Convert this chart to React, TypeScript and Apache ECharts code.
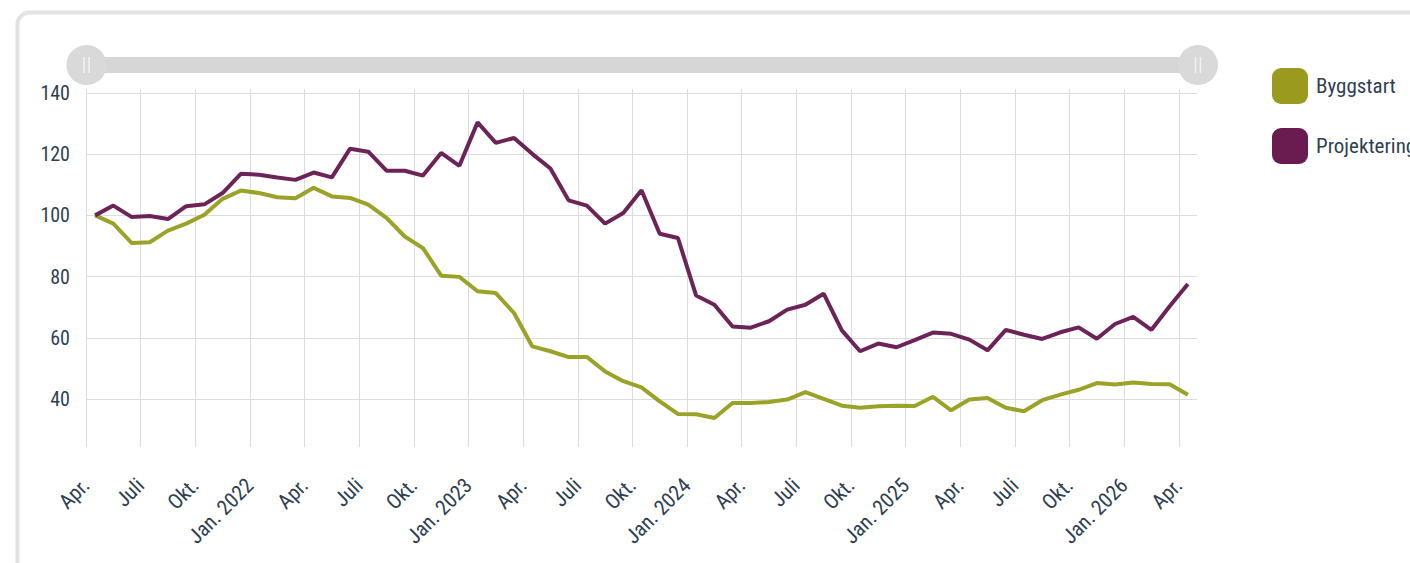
import React, { useEffect, useRef } from "react";
import * as echarts from "echarts";

// Months from Apr. 2021 to Apr. 2026 (one point per month)
const months: string[] = [
  "2021-04","2021-05","2021-06","2021-07","2021-08","2021-09","2021-10","2021-11","2021-12",
  "2022-01","2022-02","2022-03","2022-04","2022-05","2022-06","2022-07","2022-08","2022-09","2022-10","2022-11","2022-12",
  "2023-01","2023-02","2023-03","2023-04","2023-05","2023-06","2023-07","2023-08","2023-09","2023-10","2023-11","2023-12",
  "2024-01","2024-02","2024-03","2024-04","2024-05","2024-06","2024-07","2024-08","2024-09","2024-10","2024-11","2024-12",
  "2025-01","2025-02","2025-03","2025-04","2025-05","2025-06","2025-07","2025-08","2025-09","2025-10","2025-11","2025-12",
  "2026-01","2026-02","2026-03","2026-04",
];

const byggstart: number[] = [
  100, 97.3, 91.0, 91.2, 95.0, 97.3, 100.2, 105.4, 108.1, 107.3, 105.9, 105.6, 109.0, 106.2, 105.7, 103.5,
  99.2, 93.1, 89.3, 80.3, 79.9, 75.2, 74.6, 68.1, 57.2, 55.6, 53.7, 53.7, 49.0, 45.8, 43.8,
  39.2, 35.1, 35.0, 33.8, 38.7, 38.7, 39.0, 39.8, 42.2, 40.0, 37.8, 37.1, 37.6, 37.8, 37.7,
  40.7, 36.3, 39.8, 40.3, 37.1, 36.0, 39.6, 41.4, 43.0, 45.2, 44.7, 45.4, 44.9, 44.8, 41.4,
];

const projektering: number[] = [
  100, 103.2, 99.5, 99.8, 98.8, 103.0, 103.6, 107.3, 113.6, 113.3, 112.4, 111.6, 114.0, 112.4, 121.8, 120.8,
  114.6, 114.6, 113.0, 120.4, 116.2, 130.4, 123.7, 125.3, 120.1, 115.3, 104.9, 103.2, 97.3, 100.8, 108.2,
  94.0, 92.6, 73.8, 70.8, 63.7, 63.3, 65.4, 69.2, 70.8, 74.4, 62.4, 55.6, 58.1, 56.9, 59.2,
  61.7, 61.3, 59.4, 55.9, 62.6, 61.0, 59.6, 61.8, 63.4, 59.7, 64.5, 66.8, 62.6, 70.3, 77.6,
];

// Tick labels every third month, starting Apr. 2021
const xTickLabels: string[] = [
  "Apr.", "Juli", "Okt.", "Jan. 2022", "Apr.", "Juli", "Okt.", "Jan. 2023", "Apr.", "Juli", "Okt.",
  "Jan. 2024", "Apr.", "Juli", "Okt.", "Jan. 2025", "Apr.", "Juli", "Okt.", "Jan. 2026", "Apr.",
];

const yTickValues: number[] = [40, 60, 80, 100, 120, 140];

const seriesNames = ["Byggstart", "Projektering"];
const lineColors = ["#9ba228", "#6c2458"];
const legendColors = ["#999a1e", "#6a1b50"];

const FONT = "'Roboto Condensed', 'Liberation Sans Narrow', 'DejaVu Sans Condensed', Roboto, sans-serif";
const TEXT_COLOR = "#2f3f52";

export default function App() {
  const ref = useRef<HTMLDivElement>(null);

  useEffect(() => {
    document.body.style.margin = "0";
    if (!ref.current) return;
    const chart = echarts.init(ref.current, null, { renderer: "svg" });

    const toPoints = (vals: number[]) => vals.map((v, i) => [i + 0.5, v]);
    const seriesData = [toPoints(byggstart), toPoints(projektering)];

    const handle = (cx: number) => ({
      type: "group",
      children: [
        { type: "circle", shape: { cx, cy: 65, r: 20 }, style: { fill: "#d9d9d9" } },
        { type: "line", shape: { x1: cx - 2.5, y1: 57, x2: cx - 2.5, y2: 73 }, style: { stroke: "#f2f2f2", lineWidth: 1.5 } },
        { type: "line", shape: { x1: cx + 2.5, y1: 57, x2: cx + 2.5, y2: 73 }, style: { stroke: "#f2f2f2", lineWidth: 1.5 } },
      ],
    });

    chart.setOption({
      animation: false,
      backgroundColor: "#ffffff",
      textStyle: { fontFamily: FONT },
      grid: { left: 86, right: 213, top: 89, bottom: 116, outerBoundsMode: "none", containLabel: false },
      graphic: [
        {
          type: "rect",
          shape: { x: 17.5, y: 12.5, width: 1440, height: 620, r: 12 },
          style: { fill: "none", stroke: "#e3e3e3", lineWidth: 4 },
          z: 0,
        },
        {
          type: "rect",
          shape: { x: 90, y: 57, width: 1100, height: 16 },
          style: { fill: "#d6d6d6" },
        },
        handle(86.5),
        handle(1198),
      ],
      legend: {
        orient: "vertical",
        left: 1272,
        top: 68,
        padding: 0,
        itemWidth: 36,
        itemHeight: 36,
        itemGap: 24,
        icon: "roundRect",
        textStyle: { fontSize: 21, color: TEXT_COLOR, fontFamily: FONT, padding: [0, 0, 0, 3] },
        data: seriesNames.map((n, i) => ({ name: n, itemStyle: { color: legendColors[i] } })),
      },
      xAxis: {
        type: "value",
        min: 0,
        max: months.length,
        interval: 3,
        axisLine: { show: false },
        axisTick: { show: false },
        splitLine: { show: true, showMaxLine: false, lineStyle: { color: "#dcdcdc", width: 1 } },
        axisLabel: {
          rotate: 45,
          margin: 35,
          fontSize: 21,
          color: TEXT_COLOR,
          fontFamily: FONT,
          showMaxLabel: false,
          formatter: (v: number) => {
            const k = Math.round(v);
            if (Math.abs(v - k) > 1e-6 || k % 3 !== 0) return "";
            return xTickLabels[k / 3] ?? "";
          },
        },
      },
      yAxis: {
        type: "value",
        min: 24.3,
        max: 141.3,
        splitNumber: 5,
        axisLine: { show: false },
        axisTick: { show: false },
        splitLine: { show: true, showMinLine: false, showMaxLine: false, lineStyle: { color: "#dcdcdc", width: 1 } },
        axisLabel: {
          margin: 16,
          fontSize: 20,
          color: TEXT_COLOR,
          fontFamily: FONT,
          formatter: (v: number) => (yTickValues.indexOf(Math.round(v * 1000) / 1000) >= 0 ? String(v) : ""),
        },
      },
      series: seriesNames.map((n, i) => ({
        name: n,
        type: "line",
        data: seriesData[i],
        showSymbol: false,
        symbol: "none",
        lineStyle: { width: 4, color: lineColors[i] },
        itemStyle: { color: legendColors[i] },
        z: 3 + i,
      })),
    });

    return () => chart.dispose();
  }, []);

  return (
    <div
      ref={ref}
      style={{ position: "fixed", left: 0, top: 0, width: 1410, height: 563 }}
    />
  );
}
